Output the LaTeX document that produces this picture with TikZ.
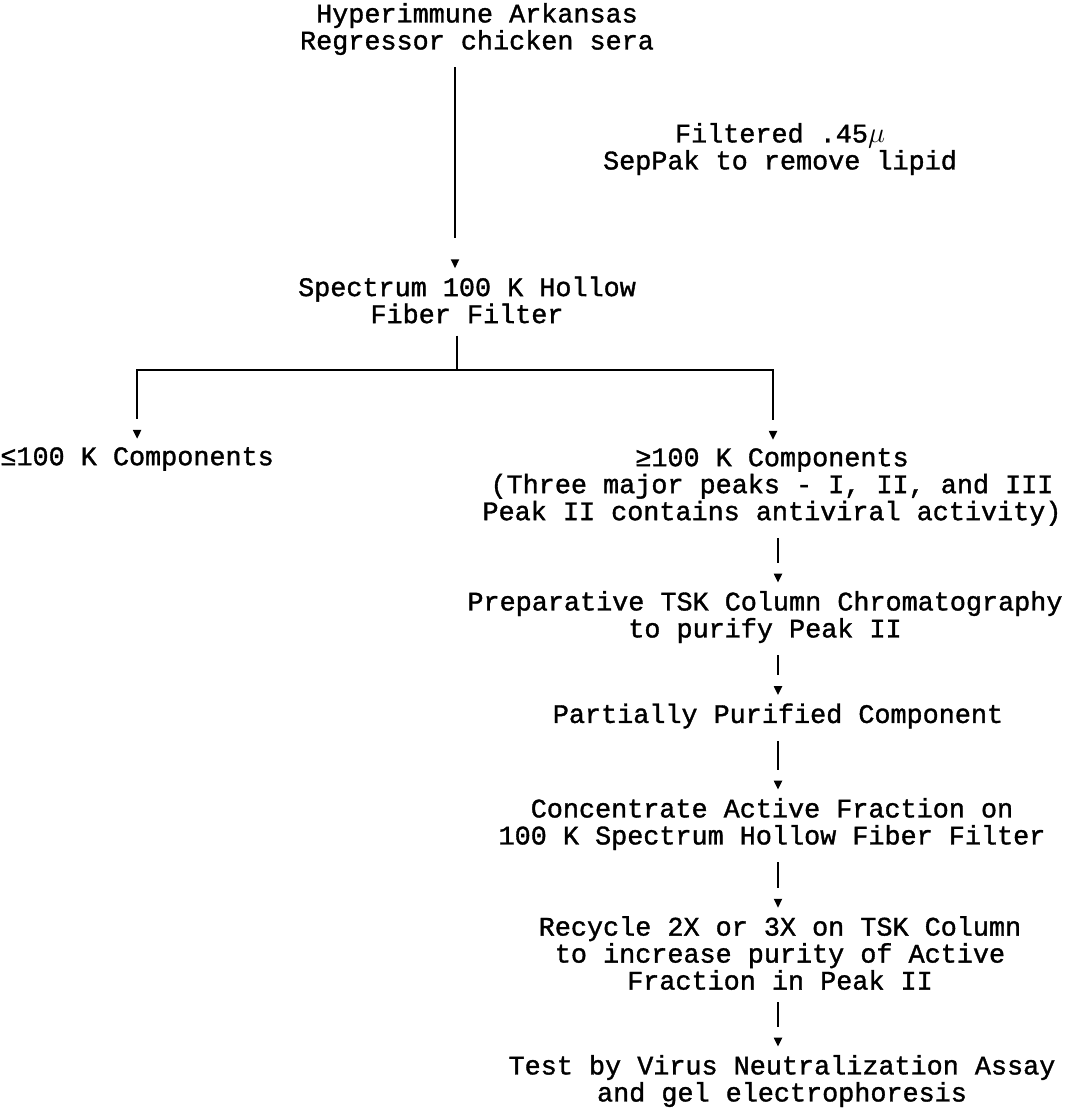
\documentclass[tikz,border=0pt]{standalone}
\usepackage{fontspec}
\newfontfamily\typefont[FakeBold=1.3]{Liberation Mono}
\usetikzlibrary{arrows.meta,positioning,decorations.markings}

\begin{document}
\begin{tikzpicture}[
    x=0.5pt, y=-0.5pt,
    stage/.style={align=center, inner sep=0pt, font=\typefont\fontsize{13.4pt}{13.5pt}\selectfont},
    link/.style={line width=1pt, shorten <=6pt},
    flow/.style={link, shorten >=14pt,
      postaction={decorate, decoration={markings,
        mark=at position -4pt with {\arrow{Triangle[width=4pt,length=4.5pt]}}}}}
  ]
    \useasboundingbox (0,0) rectangle (1081,1115);

    % two columns of connectors
    \coordinate (colA) at (455,0);
    \coordinate (colB) at (778,0);
    \coordinate (split) at (457,370);

    \node[stage] (serum) at (477,29) {Hyperimmune Arkansas\\Regressor chicken sera};
    \node[stage] (sepnote) at (780,149) {Filtered .45$\mu$\\SepPak to remove lipid};
    \node[stage] (hollow) at (467,300) {Spectrum 100 K Hollow\\Fiber Filter};
    \node[stage, anchor=west] (low) at (0,459) {≤100 K Components};
    \node[stage] (high) at (772,487) {≥100 K Components\\(Three major peaks - I, II, and III\\Peak II contains antiviral activity)};
    \node[stage] (prep) at (765,617) {Preparative TSK Column Chromatography\\to purify Peak II};
    \node[stage] (partial) at (778,716) {Partially Purified Component};
    \node[stage] (conc) at (772,824) {Concentrate Active Fraction on\\100 K Spectrum Hollow Fiber Filter};
    \node[stage] (recycle) at (780,953) {Recycle 2X or 3X on TSK Column\\to increase purity of Active\\Fraction in Peak II};
    \node[stage] (assay) at (782,1081) {Test by Virus Neutralization Assay\\and gel electrophoresis};

    \draw[flow, shorten >=19pt] (serum.south -| colA) -- (hollow.north -| colA);
    \draw[link] (hollow.south -| split) -- (split);
    \draw[flow, shorten <=0pt] (split) -| (low.north);
    \draw[flow, shorten <=0pt] (split) -| (high.north -| 773,0);
    \draw[flow] (high.south -| colB) -- (prep.north -| colB);
    \draw[flow] (prep.south -| colB) -- (partial.north -| colB);
    \draw[flow] (partial.south -| colB) -- (conc.north -| colB);
    \draw[flow] (conc.south -| colB) -- (recycle.north -| colB);
    \draw[flow] (recycle.south -| colB) -- (assay.north -| colB);
  \end{tikzpicture}
\end{document}
